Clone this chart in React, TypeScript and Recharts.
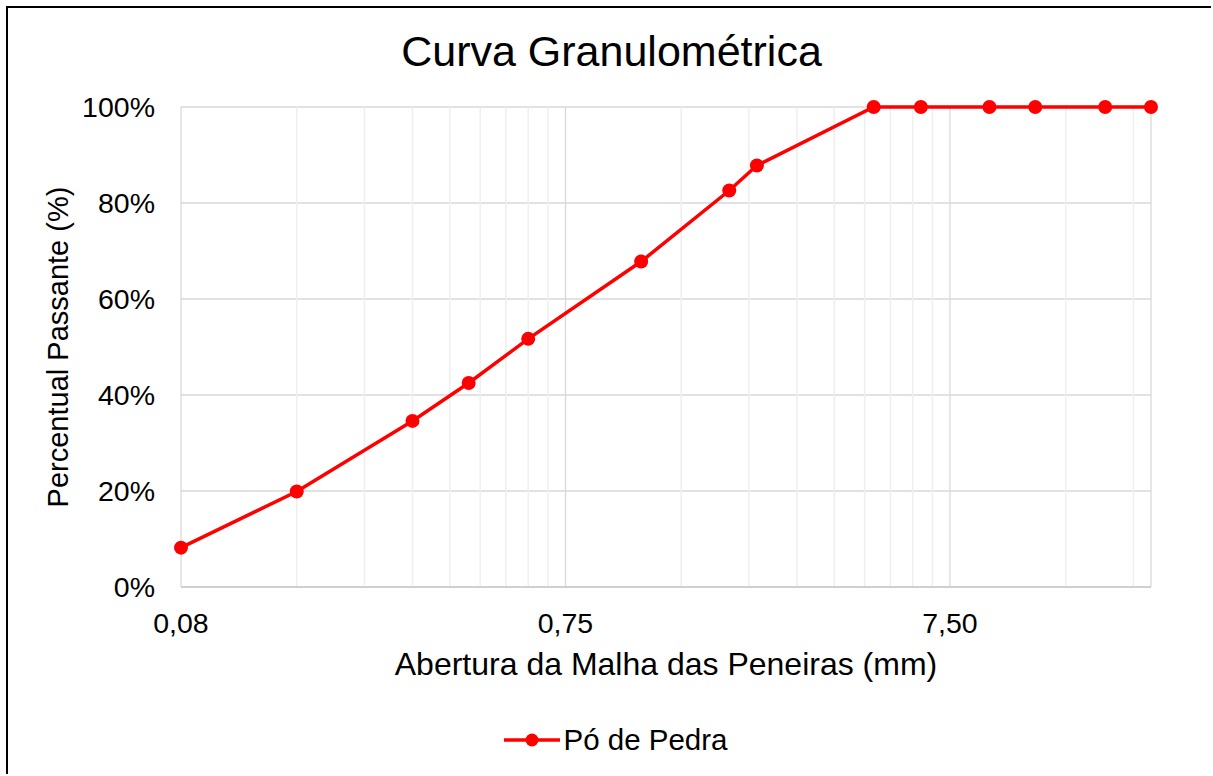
import React from 'react';
import {
  LineChart,
  Line,
  XAxis,
  YAxis,
  CartesianGrid,
  ReferenceLine,
  Legend,
  Label,
} from 'recharts';

// sieve openings (mm) and passing percentages
const sieveSizes = [0.075, 0.15, 0.3, 0.42, 0.6, 1.18, 2.0, 2.36, 4.75, 6.3, 9.5, 12.5, 19, 25];
const passing = [8.2, 19.9, 34.6, 42.5, 51.7, 67.8, 82.6, 87.8, 100, 100, 100, 100, 100, 100];

const xTicks = [0.075, 0.75, 7.5];
const xTickLabels = ['0,08', '0,75', '7,50'];
const yTicks = [0, 20, 40, 60, 80, 100];

const seriesName = 'Pó de Pedra';
const title = 'Curva Granulométrica';
const xTitle = 'Abertura da Malha das Peneiras (mm)';
const yTitle = 'Percentual Passante (%)';

// minor log grid lines (2..9 x each decade)
const decades = [0.075, 0.75, 7.5];
const minorGrid: number[] = [];
decades.forEach((d) => {
  for (let m = 2; m <= 9; m++) {
    const v = d * m;
    if (v < 25) minorGrid.push(v);
  }
});

const chartData = sieveSizes.map((size, i) => ({ size, pct: passing[i] }));

const FONT = '"Liberation Sans", Arial, sans-serif';

function renderLegend() {
  return (
    <div
      style={{
        display: 'flex',
        alignItems: 'center',
        justifyContent: 'center',
        paddingLeft: 13,
        fontFamily: FONT,
        fontSize: 29.5,
        color: '#000',
        lineHeight: '36px',
      }}
    >
      <svg width={56} height={16} style={{ marginRight: 3 }}>
        <line x1={0} y1={8} x2={56} y2={8} stroke="#ff0000" strokeWidth={3.5} />
        <circle cx={28} cy={8} r={6.5} fill="#ff0000" />
      </svg>
      <span>{seriesName}</span>
    </div>
  );
}

export default function App() {
  return (
    <div
      style={{
        position: 'absolute',
        left: 6,
        top: 6,
        width: 1205,
        height: 768,
        boxSizing: 'border-box',
        borderLeft: '2px solid #000',
        borderTop: '2px solid #000',
        background: '#fff',
        fontFamily: FONT,
      }}
    >
      <div
        style={{
          position: 'absolute',
          left: 0,
          width: 1207,
          top: 22,
          textAlign: 'center',
          fontSize: 43,
          lineHeight: '43px',
          color: '#000',
        }}
      >
        {title}
      </div>
      <LineChart
        width={1203}
        height={758}
        data={chartData}
        margin={{ top: 99, right: 60, left: 0, bottom: 119 }}
      >
        {minorGrid.map((v) => (
          <ReferenceLine key={v} x={v} stroke="#efefef" strokeWidth={1.5} />
        ))}
        <CartesianGrid stroke="#d9d9d9" strokeWidth={1.3} />
        <XAxis
          dataKey="size"
          type="number"
          scale="log"
          domain={[0.075, 25]}
          ticks={xTicks}
          interval={0}
          tickFormatter={(v: number) => xTickLabels[xTicks.indexOf(v)] ?? String(v)}
          tickLine={false}
          tickSize={0}
          tickMargin={26}
          axisLine={{ stroke: '#d0d0d0', strokeWidth: 2 }}
          tick={{ fill: '#000', fontSize: 28.5, fontFamily: FONT }}
          height={60}
        >
          <Label
            content={(props: any) => {
              const vb = props.viewBox;
              return (
                <text
                  x={vb.x + vb.width / 2}
                  y={vb.y + 88}
                  textAnchor="middle"
                  fill="#000"
                  fontSize={32}
                  fontFamily={FONT}
                >
                  {xTitle}
                </text>
              );
            }}
          />
        </XAxis>
        <YAxis
          type="number"
          domain={[0, 100]}
          ticks={yTicks}
          interval={0}
          tickFormatter={(v: number) => `${v}%`}
          tickLine={false}
          tickSize={0}
          tickMargin={26}
          axisLine={false}
          tick={{ fill: '#000', fontSize: 28.5, fontFamily: FONT }}
          width={173}
        >
          <Label
            content={(props: any) => {
              const vb = props.viewBox;
              const cx = 60;
              const cy = vb.y + vb.height / 2;
              return (
                <text
                  x={cx}
                  y={cy}
                  textAnchor="middle"
                  transform={`rotate(-90 ${cx} ${cy})`}
                  fill="#000"
                  fontSize={29}
                  fontFamily={FONT}
                >
                  {yTitle}
                </text>
              );
            }}
          />
        </YAxis>
        <Legend
          verticalAlign="middle"
          align="center"
          content={renderLegend}
          wrapperStyle={{ top: 714, left: 0, width: 1203 }}
        />
        <Line
          type="linear"
          dataKey="pct"
          name={seriesName}
          stroke="#ff0000"
          strokeWidth={3.5}
          dot={{ r: 7, fill: '#ff0000', stroke: '#ff0000', strokeWidth: 0, clipDot: false }}
          activeDot={false}
          isAnimationActive={false}
        />
      </LineChart>
    </div>
  );
}
